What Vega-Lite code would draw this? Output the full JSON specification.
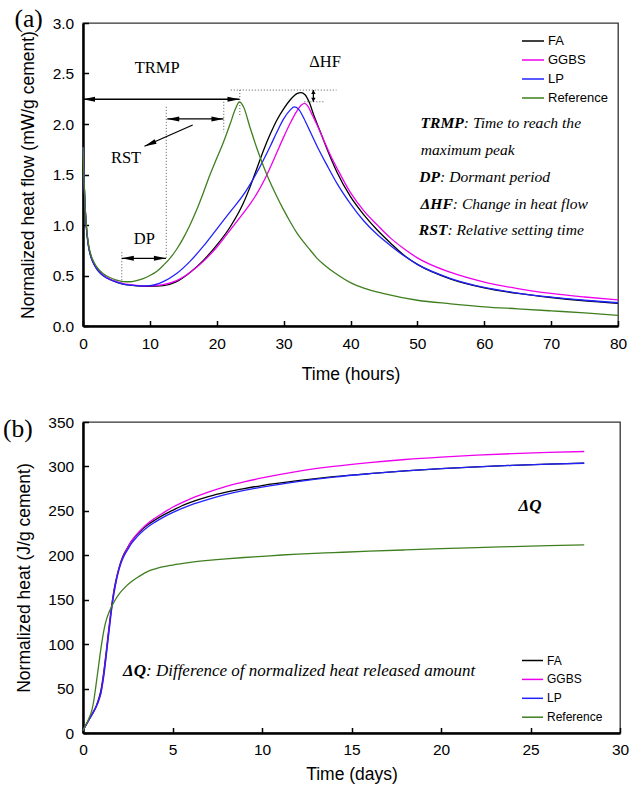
{
  "$schema": "https://vega.github.io/schema/vega-lite/v6.json",
  "background": "white",
  "padding": {"left": 2, "top": 5, "right": 6, "bottom": 4},
  "spacing": 30,
  "config": {
    "view": {"stroke": "#333333", "strokeWidth": 1.3},
    "font": "Liberation Sans",
    "axis": {
      "grid": false,
      "domainColor": "black", "domainWidth": 2.5,
      "tickColor": "black", "tickWidth": 1.5, "tickSize": -5.5,
      "labelFont": "Liberation Sans", "labelFontSize": 15.5, "labelColor": "black",
      "labelFlush": false, "labelOverlap": false,
      "titleFont": "Liberation Sans", "titleFontSize": 17.5, "titleFontWeight": "normal", "titleColor": "black"
    },
    "axisX": {"labelPadding": 16, "titlePadding": 13.5},
    "axisY": {"labelPadding": 14.8, "titlePadding": 15},
    "legend": {
      "labelFont": "Liberation Sans", "labelColor": "black",
      "symbolType": "stroke", "symbolStrokeWidth": 1.5,
      "padding": 0, "labelOffset": 3
    },
    "title": {
      "font": "Liberation Serif", "fontSize": 25.5, "fontWeight": "normal", "color": "black",
      "anchor": "start", "frame": "group", "baseline": "alphabetic"
    }
  },
  "resolve": {"scale": {"color": "independent"}, "legend": {"color": "independent"}},
  "datasets": {
    "flow": [
      {"mix":"FA","t":0,"v":1.77},{"mix":"FA","t":0.15,"v":1.45},{"mix":"FA","t":0.3,"v":1.2},{"mix":"FA","t":0.5,"v":0.98},{"mix":"FA","t":0.75,"v":0.82},{"mix":"FA","t":1,"v":0.73},{"mix":"FA","t":1.5,"v":0.63},{"mix":"FA","t":2,"v":0.57},{"mix":"FA","t":2.5,"v":0.53},{"mix":"FA","t":3,"v":0.5},{"mix":"FA","t":4,"v":0.46},{"mix":"FA","t":5,"v":0.435},{"mix":"FA","t":6,"v":0.415},{"mix":"FA","t":7,"v":0.405},{"mix":"FA","t":8,"v":0.398},{"mix":"FA","t":9,"v":0.393},{"mix":"FA","t":10,"v":0.392},{"mix":"FA","t":12,"v":0.4},{"mix":"FA","t":14,"v":0.44},{"mix":"FA","t":16,"v":0.53},{"mix":"FA","t":18,"v":0.65},{"mix":"FA","t":20,"v":0.8},{"mix":"FA","t":22,"v":0.98},{"mix":"FA","t":24,"v":1.22},{"mix":"FA","t":25,"v":1.38},{"mix":"FA","t":26,"v":1.56},{"mix":"FA","t":27,"v":1.74},{"mix":"FA","t":28,"v":1.9},{"mix":"FA","t":29,"v":2.04},{"mix":"FA","t":30,"v":2.15},{"mix":"FA","t":31,"v":2.24},{"mix":"FA","t":32,"v":2.3},{"mix":"FA","t":32.6,"v":2.31},{"mix":"FA","t":33.2,"v":2.29},{"mix":"FA","t":33.8,"v":2.22},{"mix":"FA","t":34.5,"v":2.09},{"mix":"FA","t":35.5,"v":1.92},{"mix":"FA","t":36.5,"v":1.75},{"mix":"FA","t":38,"v":1.52},{"mix":"FA","t":40,"v":1.28},{"mix":"FA","t":42,"v":1.1},{"mix":"FA","t":44,"v":0.95},{"mix":"FA","t":46,"v":0.82},{"mix":"FA","t":48,"v":0.7},{"mix":"FA","t":50,"v":0.61},{"mix":"FA","t":55,"v":0.465},{"mix":"FA","t":60,"v":0.378},{"mix":"FA","t":65,"v":0.322},{"mix":"FA","t":70,"v":0.282},{"mix":"FA","t":75,"v":0.25},{"mix":"FA","t":80,"v":0.225},
      {"mix":"GGBS","t":0,"v":1.77},{"mix":"GGBS","t":0.15,"v":1.46},{"mix":"GGBS","t":0.3,"v":1.21},{"mix":"GGBS","t":0.5,"v":0.99},{"mix":"GGBS","t":0.75,"v":0.83},{"mix":"GGBS","t":1,"v":0.74},{"mix":"GGBS","t":1.5,"v":0.635},{"mix":"GGBS","t":2,"v":0.575},{"mix":"GGBS","t":2.5,"v":0.535},{"mix":"GGBS","t":3,"v":0.505},{"mix":"GGBS","t":4,"v":0.465},{"mix":"GGBS","t":5,"v":0.44},{"mix":"GGBS","t":6,"v":0.42},{"mix":"GGBS","t":7,"v":0.41},{"mix":"GGBS","t":8,"v":0.402},{"mix":"GGBS","t":9,"v":0.398},{"mix":"GGBS","t":10,"v":0.398},{"mix":"GGBS","t":12,"v":0.41},{"mix":"GGBS","t":14,"v":0.45},{"mix":"GGBS","t":16,"v":0.53},{"mix":"GGBS","t":18,"v":0.64},{"mix":"GGBS","t":20,"v":0.78},{"mix":"GGBS","t":22,"v":0.95},{"mix":"GGBS","t":24,"v":1.12},{"mix":"GGBS","t":25,"v":1.21},{"mix":"GGBS","t":26,"v":1.31},{"mix":"GGBS","t":27,"v":1.43},{"mix":"GGBS","t":28,"v":1.57},{"mix":"GGBS","t":29,"v":1.72},{"mix":"GGBS","t":30,"v":1.87},{"mix":"GGBS","t":31,"v":2.01},{"mix":"GGBS","t":32,"v":2.13},{"mix":"GGBS","t":32.7,"v":2.19},{"mix":"GGBS","t":33.1,"v":2.205},{"mix":"GGBS","t":33.6,"v":2.18},{"mix":"GGBS","t":34.2,"v":2.1},{"mix":"GGBS","t":35,"v":1.99},{"mix":"GGBS","t":36,"v":1.84},{"mix":"GGBS","t":37,"v":1.69},{"mix":"GGBS","t":38,"v":1.56},{"mix":"GGBS","t":40,"v":1.32},{"mix":"GGBS","t":42,"v":1.14},{"mix":"GGBS","t":44,"v":1.0},{"mix":"GGBS","t":46,"v":0.87},{"mix":"GGBS","t":48,"v":0.765},{"mix":"GGBS","t":50,"v":0.675},{"mix":"GGBS","t":55,"v":0.53},{"mix":"GGBS","t":60,"v":0.435},{"mix":"GGBS","t":65,"v":0.37},{"mix":"GGBS","t":70,"v":0.322},{"mix":"GGBS","t":75,"v":0.287},{"mix":"GGBS","t":80,"v":0.258},
      {"mix":"LP","t":0,"v":1.77},{"mix":"LP","t":0.15,"v":1.45},{"mix":"LP","t":0.3,"v":1.2},{"mix":"LP","t":0.5,"v":0.98},{"mix":"LP","t":0.75,"v":0.82},{"mix":"LP","t":1,"v":0.73},{"mix":"LP","t":1.5,"v":0.63},{"mix":"LP","t":2,"v":0.57},{"mix":"LP","t":2.5,"v":0.53},{"mix":"LP","t":3,"v":0.5},{"mix":"LP","t":4,"v":0.46},{"mix":"LP","t":5,"v":0.435},{"mix":"LP","t":6,"v":0.415},{"mix":"LP","t":7,"v":0.405},{"mix":"LP","t":8,"v":0.4},{"mix":"LP","t":9,"v":0.398},{"mix":"LP","t":10,"v":0.4},{"mix":"LP","t":12,"v":0.44},{"mix":"LP","t":14,"v":0.52},{"mix":"LP","t":16,"v":0.64},{"mix":"LP","t":18,"v":0.79},{"mix":"LP","t":20,"v":0.96},{"mix":"LP","t":22,"v":1.13},{"mix":"LP","t":24,"v":1.3},{"mix":"LP","t":26,"v":1.52},{"mix":"LP","t":28,"v":1.78},{"mix":"LP","t":29,"v":1.92},{"mix":"LP","t":30,"v":2.05},{"mix":"LP","t":31,"v":2.14},{"mix":"LP","t":31.6,"v":2.17},{"mix":"LP","t":32.2,"v":2.15},{"mix":"LP","t":33,"v":2.06},{"mix":"LP","t":34,"v":1.92},{"mix":"LP","t":35,"v":1.78},{"mix":"LP","t":36.5,"v":1.59},{"mix":"LP","t":38,"v":1.41},{"mix":"LP","t":40,"v":1.21},{"mix":"LP","t":42,"v":1.04},{"mix":"LP","t":44,"v":0.905},{"mix":"LP","t":46,"v":0.795},{"mix":"LP","t":48,"v":0.695},{"mix":"LP","t":50,"v":0.61},{"mix":"LP","t":55,"v":0.47},{"mix":"LP","t":60,"v":0.382},{"mix":"LP","t":65,"v":0.326},{"mix":"LP","t":70,"v":0.286},{"mix":"LP","t":75,"v":0.255},{"mix":"LP","t":80,"v":0.23},
      {"mix":"Reference","t":0,"v":1.77},{"mix":"Reference","t":0.15,"v":1.45},{"mix":"Reference","t":0.3,"v":1.2},{"mix":"Reference","t":0.5,"v":1.0},{"mix":"Reference","t":0.75,"v":0.84},{"mix":"Reference","t":1,"v":0.75},{"mix":"Reference","t":1.5,"v":0.65},{"mix":"Reference","t":2,"v":0.59},{"mix":"Reference","t":2.5,"v":0.55},{"mix":"Reference","t":3,"v":0.52},{"mix":"Reference","t":4,"v":0.48},{"mix":"Reference","t":5,"v":0.455},{"mix":"Reference","t":6,"v":0.44},{"mix":"Reference","t":7,"v":0.438},{"mix":"Reference","t":8,"v":0.45},{"mix":"Reference","t":9,"v":0.47},{"mix":"Reference","t":10,"v":0.5},{"mix":"Reference","t":11,"v":0.54},{"mix":"Reference","t":12,"v":0.6},{"mix":"Reference","t":13,"v":0.67},{"mix":"Reference","t":14,"v":0.76},{"mix":"Reference","t":15,"v":0.87},{"mix":"Reference","t":16,"v":1.0},{"mix":"Reference","t":17,"v":1.15},{"mix":"Reference","t":18,"v":1.32},{"mix":"Reference","t":19,"v":1.5},{"mix":"Reference","t":20,"v":1.66},{"mix":"Reference","t":21,"v":1.82},{"mix":"Reference","t":22,"v":2.0},{"mix":"Reference","t":22.8,"v":2.15},{"mix":"Reference","t":23.4,"v":2.22},{"mix":"Reference","t":24,"v":2.17},{"mix":"Reference","t":25,"v":1.96},{"mix":"Reference","t":26,"v":1.76},{"mix":"Reference","t":27,"v":1.58},{"mix":"Reference","t":28,"v":1.42},{"mix":"Reference","t":29,"v":1.28},{"mix":"Reference","t":30,"v":1.15},{"mix":"Reference","t":31,"v":1.03},{"mix":"Reference","t":32,"v":0.92},{"mix":"Reference","t":33,"v":0.83},{"mix":"Reference","t":34,"v":0.75},{"mix":"Reference","t":35,"v":0.67},{"mix":"Reference","t":36,"v":0.61},{"mix":"Reference","t":38,"v":0.51},{"mix":"Reference","t":40,"v":0.43},{"mix":"Reference","t":42,"v":0.375},{"mix":"Reference","t":45,"v":0.32},{"mix":"Reference","t":50,"v":0.255},{"mix":"Reference","t":55,"v":0.22},{"mix":"Reference","t":60,"v":0.19},{"mix":"Reference","t":65,"v":0.17},{"mix":"Reference","t":70,"v":0.15},{"mix":"Reference","t":75,"v":0.13},{"mix":"Reference","t":80,"v":0.105}
    ],
    "heat": [
      {"mix":"FA","d":0,"q":3},{"mix":"FA","d":0.25,"q":12},{"mix":"FA","d":0.5,"q":21},{"mix":"FA","d":0.75,"q":31},{"mix":"FA","d":0.9,"q":40},{"mix":"FA","d":1.0,"q":48},{"mix":"FA","d":1.1,"q":60},{"mix":"FA","d":1.2,"q":75},{"mix":"FA","d":1.3,"q":92},{"mix":"FA","d":1.4,"q":110},{"mix":"FA","d":1.5,"q":127},{"mix":"FA","d":1.6,"q":143},{"mix":"FA","d":1.7,"q":157},{"mix":"FA","d":1.8,"q":168},{"mix":"FA","d":1.9,"q":177},{"mix":"FA","d":2.0,"q":185},{"mix":"FA","d":2.12,"q":193},{"mix":"FA","d":2.3,"q":202},{"mix":"FA","d":2.5,"q":209},{"mix":"FA","d":2.68,"q":215},{"mix":"FA","d":3.0,"q":223},{"mix":"FA","d":3.3,"q":229},{"mix":"FA","d":3.6,"q":234},{"mix":"FA","d":4,"q":239.5},{"mix":"FA","d":4.5,"q":245.5},{"mix":"FA","d":5,"q":250.5},{"mix":"FA","d":5.5,"q":255.5},{"mix":"FA","d":6,"q":259.5},{"mix":"FA","d":7,"q":266},{"mix":"FA","d":8,"q":271},{"mix":"FA","d":9,"q":275},{"mix":"FA","d":10,"q":278.5},{"mix":"FA","d":12,"q":284},{"mix":"FA","d":14,"q":288.5},{"mix":"FA","d":16,"q":292},{"mix":"FA","d":18,"q":295},{"mix":"FA","d":20,"q":297.5},{"mix":"FA","d":22,"q":299.5},{"mix":"FA","d":24,"q":301.2},{"mix":"FA","d":26,"q":302.6},{"mix":"FA","d":28,"q":303.8},
      {"mix":"GGBS","d":0,"q":3},{"mix":"GGBS","d":0.25,"q":12},{"mix":"GGBS","d":0.5,"q":20.5},{"mix":"GGBS","d":0.75,"q":30},{"mix":"GGBS","d":0.9,"q":38},{"mix":"GGBS","d":1.0,"q":45},{"mix":"GGBS","d":1.1,"q":57},{"mix":"GGBS","d":1.2,"q":72},{"mix":"GGBS","d":1.3,"q":89},{"mix":"GGBS","d":1.4,"q":107},{"mix":"GGBS","d":1.5,"q":125},{"mix":"GGBS","d":1.6,"q":141},{"mix":"GGBS","d":1.7,"q":155},{"mix":"GGBS","d":1.8,"q":166},{"mix":"GGBS","d":1.9,"q":176},{"mix":"GGBS","d":2.0,"q":184},{"mix":"GGBS","d":2.12,"q":192},{"mix":"GGBS","d":2.3,"q":201},{"mix":"GGBS","d":2.5,"q":208.5},{"mix":"GGBS","d":2.68,"q":215},{"mix":"GGBS","d":3.0,"q":223.5},{"mix":"GGBS","d":3.3,"q":230},{"mix":"GGBS","d":3.6,"q":235.5},{"mix":"GGBS","d":4,"q":241.5},{"mix":"GGBS","d":4.5,"q":248},{"mix":"GGBS","d":5,"q":254},{"mix":"GGBS","d":5.5,"q":259},{"mix":"GGBS","d":6,"q":263.5},{"mix":"GGBS","d":7,"q":271},{"mix":"GGBS","d":8,"q":277.5},{"mix":"GGBS","d":9,"q":282.5},{"mix":"GGBS","d":10,"q":287},{"mix":"GGBS","d":12,"q":294.5},{"mix":"GGBS","d":14,"q":300},{"mix":"GGBS","d":16,"q":304.3},{"mix":"GGBS","d":18,"q":307.8},{"mix":"GGBS","d":20,"q":310.5},{"mix":"GGBS","d":22,"q":312.7},{"mix":"GGBS","d":24,"q":314.4},{"mix":"GGBS","d":26,"q":315.8},{"mix":"GGBS","d":28,"q":316.8},
      {"mix":"LP","d":0,"q":3},{"mix":"LP","d":0.25,"q":12},{"mix":"LP","d":0.5,"q":20.5},{"mix":"LP","d":0.75,"q":30},{"mix":"LP","d":0.9,"q":38},{"mix":"LP","d":1.0,"q":45},{"mix":"LP","d":1.1,"q":56},{"mix":"LP","d":1.2,"q":70},{"mix":"LP","d":1.3,"q":87},{"mix":"LP","d":1.4,"q":105},{"mix":"LP","d":1.5,"q":122},{"mix":"LP","d":1.6,"q":139},{"mix":"LP","d":1.7,"q":153},{"mix":"LP","d":1.8,"q":165},{"mix":"LP","d":1.9,"q":175},{"mix":"LP","d":2.0,"q":183},{"mix":"LP","d":2.12,"q":191},{"mix":"LP","d":2.3,"q":199.5},{"mix":"LP","d":2.5,"q":206.5},{"mix":"LP","d":2.68,"q":212.5},{"mix":"LP","d":3.0,"q":220.5},{"mix":"LP","d":3.3,"q":226.5},{"mix":"LP","d":3.6,"q":231.5},{"mix":"LP","d":4,"q":237},{"mix":"LP","d":4.5,"q":243},{"mix":"LP","d":5,"q":248},{"mix":"LP","d":5.5,"q":252.5},{"mix":"LP","d":6,"q":256.5},{"mix":"LP","d":7,"q":263},{"mix":"LP","d":8,"q":268.5},{"mix":"LP","d":9,"q":273},{"mix":"LP","d":10,"q":276.8},{"mix":"LP","d":12,"q":283},{"mix":"LP","d":14,"q":288},{"mix":"LP","d":16,"q":291.8},{"mix":"LP","d":18,"q":295},{"mix":"LP","d":20,"q":297.5},{"mix":"LP","d":22,"q":299.5},{"mix":"LP","d":24,"q":301.2},{"mix":"LP","d":26,"q":302.6},{"mix":"LP","d":28,"q":303.6},
      {"mix":"Reference","d":0,"q":3},{"mix":"Reference","d":0.25,"q":13},{"mix":"Reference","d":0.5,"q":26},{"mix":"Reference","d":0.6,"q":36},{"mix":"Reference","d":0.7,"q":50},{"mix":"Reference","d":0.8,"q":65},{"mix":"Reference","d":0.9,"q":80},{"mix":"Reference","d":1.0,"q":95},{"mix":"Reference","d":1.1,"q":108},{"mix":"Reference","d":1.2,"q":119},{"mix":"Reference","d":1.3,"q":127},{"mix":"Reference","d":1.4,"q":133},{"mix":"Reference","d":1.5,"q":138},{"mix":"Reference","d":1.75,"q":148},{"mix":"Reference","d":2.0,"q":156},{"mix":"Reference","d":2.3,"q":163},{"mix":"Reference","d":2.75,"q":171},{"mix":"Reference","d":3.0,"q":174.5},{"mix":"Reference","d":3.6,"q":181.6},{"mix":"Reference","d":4,"q":184.5},{"mix":"Reference","d":5,"q":189},{"mix":"Reference","d":6,"q":192},{"mix":"Reference","d":7,"q":194.2},{"mix":"Reference","d":8,"q":196},{"mix":"Reference","d":9,"q":197.5},{"mix":"Reference","d":10,"q":198.8},{"mix":"Reference","d":11.1,"q":200.3},{"mix":"Reference","d":12,"q":201.3},{"mix":"Reference","d":14,"q":203},{"mix":"Reference","d":16,"q":204.6},{"mix":"Reference","d":18,"q":206},{"mix":"Reference","d":20,"q":207.4},{"mix":"Reference","d":22,"q":208.6},{"mix":"Reference","d":24,"q":209.8},{"mix":"Reference","d":26,"q":210.8},{"mix":"Reference","d":28,"q":211.7}
    ],
    "guidesA": [
      {"x1": 23.45, "x2": 23.45, "y1": 2.336, "y2": 2.07},
      {"x1": 22.1, "x2": 37.9, "y1": 2.336, "y2": 2.336},
      {"x1": 33.1, "x2": 36.2, "y1": 2.22, "y2": 2.22},
      {"x1": 12.45, "x2": 12.45, "y1": 2.17, "y2": 0.67},
      {"x1": 21.05, "x2": 21.05, "y1": 2.22, "y2": 1.92},
      {"x1": 5.8, "x2": 5.8, "y1": 0.73, "y2": 0.42}
    ],
    "arrowsA": [
      {"kind": "h", "x1": 0, "x2": 23.4, "y1": 2.245, "y2": 2.245},
      {"kind": "h", "x1": 12.6, "x2": 21.0, "y1": 2.05, "y2": 2.05},
      {"kind": "h", "x1": 5.8, "x2": 12.4, "y1": 0.67, "y2": 0.67},
      {"kind": "v", "x1": 34.45, "x2": 34.45, "y1": 2.336, "y2": 2.22},
      {"kind": "p", "x1": 16.4, "x2": 9.2, "y1": 1.99, "y2": 1.78}
    ],
    "labelsA": [
      {"label": "TRMP", "t": 11.1, "v": 2.554},
      {"label": "ΔHF", "t": 36.2, "v": 2.61},
      {"label": "RST", "t": 6.43, "v": 1.667},
      {"label": "DP", "t": 9.16, "v": 0.859}
    ],
    "notesA": [
      {"key": "TRMP", "rest": ": Time to reach the", "t": 56.95, "v": 1.956},
      {"key": "", "rest": "maximum peak", "t": 50.5, "v": 1.692},
      {"key": "DP", "rest": ": Dormant period", "t": 53.4, "v": 1.427},
      {"key": "ΔHF", "rest": ": Change in heat flow", "t": 55.3, "v": 1.163},
      {"key": "RST", "rest": ": Relative setting time", "t": 54.5, "v": 0.899}
    ],
    "labelsB": [
      {"label": "ΔQ", "d": 24.97, "q": 256}
    ],
    "notesB": [
      {"key": "ΔQ", "rest": ": Difference of normalized heat released amount", "d": 3.52, "q": 64.6}
    ]
  },
  "vconcat": [
    {
      "width": 535,
      "height": 303,
      "title": {"text": "(a)", "offset": -16, "dx": -68.5},
      "layer": [
        {
          "data": {"name": "flow"},
          "mark": {"type": "line", "interpolate": "monotone", "strokeWidth": 1.3},
          "encoding": {
            "x": {"field": "t", "type": "quantitative", "title": "Time (hours)",
                  "scale": {"domain": [0, 80], "nice": false, "zero": false},
                  "axis": {"values": [0, 10, 20, 30, 40, 50, 60, 70, 80], "format": "d"}},
            "y": {"field": "v", "type": "quantitative", "title": "Normalized heat flow (mW/g cement)",
                  "scale": {"domain": [0, 3], "nice": false},
                  "axis": {"values": [0, 0.5, 1, 1.5, 2, 2.5, 3], "format": ".1f"}},
            "color": {"field": "mix", "type": "nominal",
                      "scale": {"domain": ["FA", "GGBS", "LP", "Reference"], "range": ["#000000", "#ee00ee", "#2222ff", "#3f7f1f"]},
                      "legend": {"title": null, "orient": "none", "legendX": 438, "legendY": 6,
                                 "labelFontSize": 13, "symbolSize": 484, "rowPadding": -0.5}}
          }
        },
        {
          "data": {"name": "guidesA"},
          "mark": {"type": "rule", "strokeDash": [1, 2], "strokeWidth": 1, "color": "#555555"},
          "encoding": {
            "x": {"field": "x1", "type": "quantitative"}, "x2": {"field": "x2"},
            "y": {"field": "y1", "type": "quantitative"}, "y2": {"field": "y2"}
          }
        },
        {
          "data": {"name": "arrowsA"},
          "mark": {"type": "rule", "strokeWidth": 1.3, "color": "black"},
          "encoding": {
            "x": {"field": "x1", "type": "quantitative"}, "x2": {"field": "x2"},
            "y": {"field": "y1", "type": "quantitative"}, "y2": {"field": "y2"}
          }
        },
        {
          "data": {"name": "arrowsA"},
          "transform": [{"filter": "datum.kind === 'h'"}],
          "mark": {"type": "point", "shape": "M0,0L-2,-0.42L-2,0.42Z", "filled": true, "color": "black", "opacity": 1, "size": 144, "angle": 0},
          "encoding": {"x": {"field": "x2", "type": "quantitative"}, "y": {"field": "y2", "type": "quantitative"}}
        },
        {
          "data": {"name": "arrowsA"},
          "transform": [{"filter": "datum.kind === 'h'"}],
          "mark": {"type": "point", "shape": "M0,0L-2,-0.42L-2,0.42Z", "filled": true, "color": "black", "opacity": 1, "size": 144, "angle": 180},
          "encoding": {"x": {"field": "x1", "type": "quantitative"}, "y": {"field": "y1", "type": "quantitative"}}
        },
        {
          "data": {"name": "arrowsA"},
          "transform": [{"filter": "datum.kind === 'p'"}],
          "mark": {"type": "point", "shape": "M0,0L-2,-0.42L-2,0.42Z", "filled": true, "color": "black", "opacity": 1, "size": 144, "angle": 157},
          "encoding": {"x": {"field": "x2", "type": "quantitative"}, "y": {"field": "y2", "type": "quantitative"}}
        },
        {
          "data": {"name": "arrowsA"},
          "transform": [{"filter": "datum.kind === 'v'"}],
          "mark": {"type": "point", "shape": "M0,0L-2,-1.1L-2,1.1Z", "filled": true, "color": "black", "opacity": 1, "size": 16, "angle": 90},
          "encoding": {"x": {"field": "x2", "type": "quantitative"}, "y": {"field": "y2", "type": "quantitative"}}
        },
        {
          "data": {"name": "arrowsA"},
          "transform": [{"filter": "datum.kind === 'v'"}],
          "mark": {"type": "point", "shape": "M0,0L-2,-1.1L-2,1.1Z", "filled": true, "color": "black", "opacity": 1, "size": 16, "angle": 270},
          "encoding": {"x": {"field": "x1", "type": "quantitative"}, "y": {"field": "y1", "type": "quantitative"}}
        },
        {
          "data": {"name": "labelsA"},
          "mark": {"type": "text", "font": "Liberation Serif", "fontSize": 16.5, "align": "center", "baseline": "middle", "color": "black"},
          "encoding": {"x": {"field": "t", "type": "quantitative"}, "y": {"field": "v", "type": "quantitative"}, "text": {"field": "label"}}
        },
        {
          "data": {"name": "notesA"},
          "mark": {"type": "text", "font": "Liberation Serif", "fontSize": 15.6, "fontStyle": "italic", "fontWeight": "bold", "align": "right", "baseline": "alphabetic", "color": "black"},
          "encoding": {"x": {"field": "t", "type": "quantitative"}, "y": {"field": "v", "type": "quantitative"}, "text": {"field": "key"}}
        },
        {
          "data": {"name": "notesA"},
          "mark": {"type": "text", "font": "Liberation Serif", "fontSize": 15.6, "fontStyle": "italic", "align": "left", "baseline": "alphabetic", "color": "black"},
          "encoding": {"x": {"field": "t", "type": "quantitative"}, "y": {"field": "v", "type": "quantitative"}, "text": {"field": "rest"}}
        }
      ]
    },
    {
      "width": 537,
      "height": 311,
      "title": {"text": "(b)", "offset": -27, "dx": -80},
      "layer": [
        {
          "data": {"name": "heat"},
          "mark": {"type": "line", "interpolate": "monotone", "strokeWidth": 1.3},
          "encoding": {
            "x": {"field": "d", "type": "quantitative", "title": "Time (days)",
                  "scale": {"domain": [0, 30], "nice": false, "zero": false},
                  "axis": {"values": [0, 5, 10, 15, 20, 25, 30], "format": "d", "labelPadding": 14.8, "titlePadding": 7.7}},
            "y": {"field": "q", "type": "quantitative", "title": "Normalized heat (J/g cement)",
                  "scale": {"domain": [0, 350], "nice": false},
                  "axis": {"values": [0, 50, 100, 150, 200, 250, 300, 350], "format": "d", "titlePadding": 14}},
            "color": {"field": "mix", "type": "nominal",
                      "scale": {"domain": ["FA", "GGBS", "LP", "Reference"], "range": ["#000000", "#ee00ee", "#2222ff", "#3f7f1f"]},
                      "legend": {"title": null, "orient": "none", "legendX": 438, "legendY": 227,
                                 "labelFontSize": 12, "symbolSize": 441, "rowPadding": 0.9}}
          }
        },
        {
          "data": {"name": "labelsB"},
          "mark": {"type": "text", "font": "Liberation Serif", "fontSize": 17, "fontStyle": "italic", "fontWeight": "bold", "align": "center", "baseline": "middle", "color": "black"},
          "encoding": {"x": {"field": "d", "type": "quantitative"}, "y": {"field": "q", "type": "quantitative"}, "text": {"field": "label"}}
        },
        {
          "data": {"name": "notesB"},
          "mark": {"type": "text", "font": "Liberation Serif", "fontSize": 17, "fontStyle": "italic", "fontWeight": "bold", "align": "right", "baseline": "alphabetic", "color": "black"},
          "encoding": {"x": {"field": "d", "type": "quantitative"}, "y": {"field": "q", "type": "quantitative"}, "text": {"field": "key"}}
        },
        {
          "data": {"name": "notesB"},
          "mark": {"type": "text", "font": "Liberation Serif", "fontSize": 17, "fontStyle": "italic", "align": "left", "baseline": "alphabetic", "color": "black"},
          "encoding": {"x": {"field": "d", "type": "quantitative"}, "y": {"field": "q", "type": "quantitative"}, "text": {"field": "rest"}}
        }
      ]
    }
  ]
}
